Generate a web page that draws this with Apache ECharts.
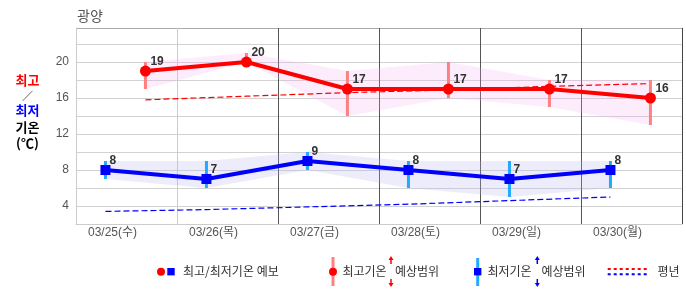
<!DOCTYPE html>
<html><head><meta charset="utf-8">
<script src="https://cdn.jsdelivr.net/npm/echarts@6/dist/echarts.min.js"></script>
<style>html,body{margin:0;padding:0;background:#fff}#c{width:686px;height:295px}</style>
</head><body><div id="c"></div>
<script>
const stationName = '광양';
const dates = ['03/25(수)', '03/26(목)', '03/27(금)', '03/28(토)', '03/29(일)', '03/30(월)'];
const maxTemp = [19, 20, 17, 17, 17, 16];
const minTemp = [8, 7, 9, 8, 7, 8];
const maxRangeLow = [17, 20, 14, 16, 15, 13];
const maxRangeHigh = [20, 21, 19, 20, 18, 18];
const minRangeLow = [7, 6, 8, 6, 5, 6];
const minRangeHigh = [9, 9, 10, 9, 9, 9];
const normalMax = [15.8, 16.2, 16.6, 16.9, 17.3, 17.6];
const normalMin = [3.4, 3.6, 3.9, 4.2, 4.6, 5.0];
const minHour = 7;      // hour of day of the daily minimum
const maxHour = 16.5;   // hour of day of the daily maximum
const yLabelValues = [4, 8, 12, 16, 20];

const NUM = '"Liberation Sans","Noto Sans CJK KR",sans-serif';
const KR = '"Noto Sans CJK KR",sans-serif';

const xMax = dates.map((d, i) => i + maxHour / 24);
const xMin = dates.map((d, i) => i + minHour / 24);

function bandData(xs, lo, hi) {
  const out = [];
  for (let i = 0; i < xs.length - 1; i++) out.push([xs[i], lo[i], hi[i], xs[i + 1], lo[i + 1], hi[i + 1]]);
  return out;
}
function bandRender(color) {
  return function (params, api) {
    const a = api.coord([api.value(0), api.value(1)]);
    const b = api.coord([api.value(0), api.value(2)]);
    const c = api.coord([api.value(3), api.value(5)]);
    const d = api.coord([api.value(3), api.value(4)]);
    return { type: 'polygon', shape: { points: [a, b, c, d] }, style: { fill: color } };
  };
}
function barRender(color) {
  return function (params, api) {
    const top = api.coord([api.value(0), api.value(2)]);
    const bot = api.coord([api.value(0), api.value(1)]);
    return { type: 'rect', shape: { x: top[0] - 1.5, y: top[1], width: 3, height: bot[1] - top[1] }, style: { fill: color } };
  };
}

const chart = echarts.init(document.getElementById('c'));
const labelStyle = { show: true, position: 'inside', align: 'left', verticalAlign: 'middle', color: '#333', fontWeight: 'bold', fontSize: 12, fontFamily: NUM };

function arrow(x, yTop, yBot, color) {
  return [
    { type: 'polygon', shape: { points: [[x, yTop], [x - 2.5, yTop + 4], [x + 2.5, yTop + 4]] }, style: { fill: color } },
    { type: 'rect', shape: { x: x - 0.75, y: yTop + 3, width: 1.5, height: 5 }, style: { fill: color } },
    { type: 'rect', shape: { x: x - 0.75, y: yBot - 8, width: 1.5, height: 5 }, style: { fill: color } },
    { type: 'polygon', shape: { points: [[x, yBot], [x - 2.5, yBot - 4], [x + 2.5, yBot - 4]] }, style: { fill: color } }
  ];
}
function txt(x, y, text, fill, font, align) {
  return { type: 'text', x: x, y: y, style: { text: text, fill: fill, font: font, align: align || 'left', verticalAlign: 'middle' } };
}

const graphics = [
  txt(77, 16, stationName, '#555', '14px ' + KR),
  txt(27.5, 80, '최고', '#ff0000', 'bold 13px ' + KR, 'center'),
  txt(27.5, 96, '／', '#000', '11px ' + KR, 'center'),
  txt(27.5, 110, '최저', '#0000ff', 'bold 13px ' + KR, 'center'),
  txt(27.5, 127, '기온', '#000', 'bold 13px ' + KR, 'center'),
  txt(27.5, 143, '(℃)', '#000', 'bold 13px ' + KR, 'center'),
  // legend
  { type: 'circle', shape: { cx: 161, cy: 271.7, r: 4 }, style: { fill: '#ff0000' } },
  { type: 'rect', shape: { x: 167.3, y: 268, width: 7.4, height: 7.4 }, style: { fill: '#0000ff' } },
  txt(183, 271.5, '최고/최저기온 예보', '#333', '12px ' + KR),
  { type: 'rect', shape: { x: 331.5, y: 257, width: 3, height: 29 }, style: { fill: '#ff8080' } },
  { type: 'circle', shape: { cx: 333, cy: 271.7, r: 4 }, style: { fill: '#ff0000' } },
  txt(342.5, 271.5, '최고기온', '#333', '12px ' + KR),
  txt(395, 271.5, '예상범위', '#333', '12px ' + KR),
  { type: 'rect', shape: { x: 476.2, y: 258, width: 3, height: 28 }, style: { fill: '#22aaff' } },
  { type: 'rect', shape: { x: 474, y: 268, width: 7.4, height: 7.4 }, style: { fill: '#0000ff' } },
  txt(487.5, 271.5, '최저기온', '#333', '12px ' + KR),
  txt(541.5, 271.5, '예상범위', '#333', '12px ' + KR),
  { type: 'line', shape: { x1: 607.7, y1: 269, x2: 647, y2: 269 }, style: { stroke: '#ff0000', lineWidth: 2, lineDash: [3, 3] } },
  { type: 'line', shape: { x1: 607.7, y1: 274.3, x2: 647, y2: 274.3 }, style: { stroke: '#0000ff', lineWidth: 2, lineDash: [3, 3] } },
  txt(657.5, 271.5, '평년', '#333', '12px ' + KR)
].concat(arrow(391, 256, 287, '#ff0000')).concat(arrow(537.3, 256, 287, '#0000ff'));

const yLineColors = [];
for (let v = 2; v < 23.8; v += 2) yLineColors.push('#d2d2d2');
yLineColors.push('#aaaaaa');

chart.setOption({
  animation: false,
  grid: { left: 76, right: 4, top: 28, bottom: 71 },
  xAxis: {
    type: 'value', min: 0, max: 6, interval: 1,
    axisLine: { show: true, lineStyle: { color: '#cccccc' } },
    axisTick: { show: false },
    splitLine: { show: true, showMinLine: true, showMaxLine: true, lineStyle: { color: ['#cccccc', '#cccccc', '#555555', '#555555', '#555555', '#555555', '#444444'], width: 1 } },
    axisLabel: {
      formatter: v => dates[Math.round(v)] || '', color: '#555', fontSize: 12, fontFamily: NUM,
      margin: 3, align: 'center', padding: [0, 0, 0, 73]
    }
  },
  yAxis: {
    type: 'value', min: 2, max: 23.78, interval: 2,
    axisLine: { show: true, lineStyle: { color: '#cccccc' } },
    axisTick: { show: false },
    splitLine: { show: true, showMinLine: true, showMaxLine: true, lineStyle: { color: yLineColors } },
    axisLabel: {
      formatter: v => yLabelValues.indexOf(Math.round(v * 100) / 100) >= 0 ? String(v) : '',
      color: '#555', fontSize: 12, fontFamily: NUM, margin: 7
    }
  },
  graphic: graphics,
  series: [
    { type: 'custom', z: 1, silent: true, data: bandData(xMax, maxRangeLow, maxRangeHigh), renderItem: bandRender('rgba(240,170,240,0.22)') },
    { type: 'custom', z: 1, silent: true, data: bandData(xMin, minRangeLow, minRangeHigh), renderItem: bandRender('rgba(180,180,240,0.25)') },
    { type: 'line', z: 2, data: xMax.map((x, i) => [x, normalMax[i]]), symbol: 'none', lineStyle: { color: '#ff0000', width: 1.2, type: [6, 3] } },
    { type: 'line', z: 2, data: xMin.map((x, i) => [x, normalMin[i]]), symbol: 'none', lineStyle: { color: '#0000ff', width: 1.2, type: [6, 3] } },
    { type: 'custom', z: 3, data: xMax.map((x, i) => [x, maxRangeLow[i], maxRangeHigh[i]]), renderItem: barRender('#ff8080') },
    { type: 'custom', z: 3, data: xMin.map((x, i) => [x, minRangeLow[i], minRangeHigh[i]]), renderItem: barRender('#22aaff') },
    {
      type: 'line', z: 4, data: xMax.map((x, i) => [x, maxTemp[i]]),
      symbol: 'circle', symbolSize: 11, itemStyle: { color: '#ff0000' },
      lineStyle: { color: '#ff0000', width: 4 },
      label: Object.assign({}, labelStyle, { offset: [5, -9.5], formatter: p => String(p.value[1]) })
    },
    {
      type: 'line', z: 4, data: xMin.map((x, i) => [x, minTemp[i]]),
      symbol: 'rect', symbolSize: 10, itemStyle: { color: '#0000ff' },
      lineStyle: { color: '#0000ff', width: 4 },
      label: Object.assign({}, labelStyle, { offset: [4, -9], formatter: p => String(p.value[1]) })
    }
  ]
});
</script>
</body></html>
